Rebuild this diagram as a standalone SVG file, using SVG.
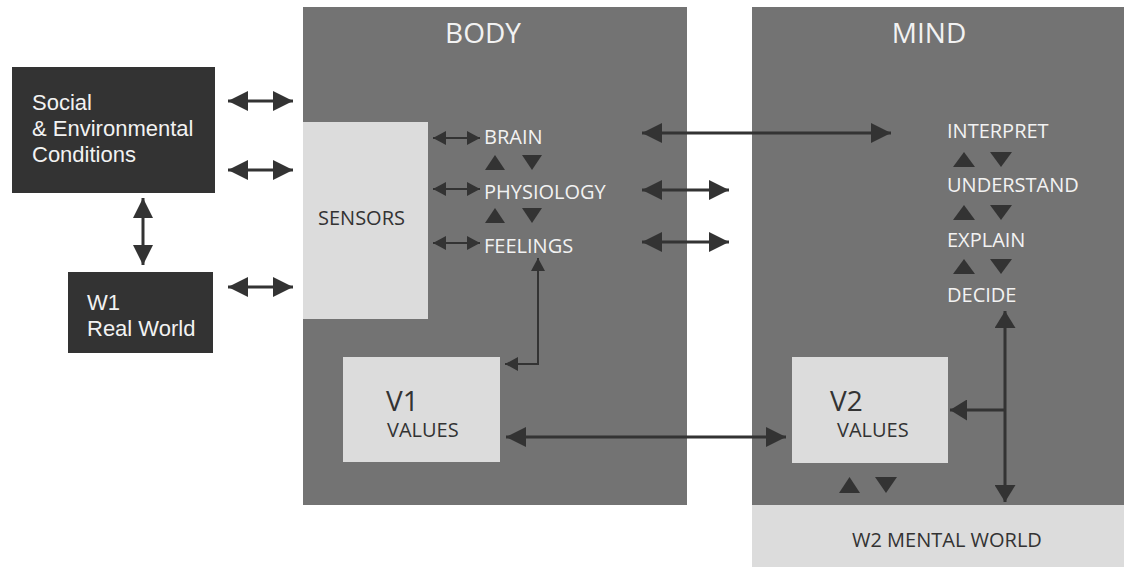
<svg xmlns="http://www.w3.org/2000/svg" width="1124" height="567" viewBox="0 0 1124 567">
<style>
.panel{fill:#737373}
.dark{fill:#333333}
.light{fill:#dcdcdc}
.t{font-family:"Open Sans","Liberation Sans",sans-serif;font-size:20px;font-weight:500}
.tl{font-family:"Liberation Sans","Open Sans",sans-serif;font-size:22px}
.w{fill:#f2f2f2}
.k{fill:#333333}
.title{font-family:"Open Sans","Liberation Sans",sans-serif;font-size:28px;fill:#f2f2f2;font-weight:500}
.big{font-family:"Open Sans","Liberation Sans",sans-serif;font-size:28px;fill:#333333;font-weight:500}
.c{stroke:#333333;stroke-width:3;fill:none}
.cs{stroke:#333333;stroke-width:2;fill:none}
.tri{fill:#333333}
</style>
<defs>
<marker id="ah" markerUnits="userSpaceOnUse" markerWidth="20" markerHeight="20" refX="20" refY="10" orient="auto-start-reverse" viewBox="0 0 20 20">
<path d="M0,0 L20,10 L0,20 z" fill="#333333"/>
</marker>
<marker id="am" markerUnits="userSpaceOnUse" markerWidth="17" markerHeight="21" refX="17" refY="10.5" orient="auto-start-reverse" viewBox="0 0 17 21">
<path d="M0,0 L17,10.5 L0,21 z" fill="#333333"/>
</marker>
<marker id="as" markerUnits="userSpaceOnUse" markerWidth="13" markerHeight="14" refX="13" refY="7" orient="auto-start-reverse" viewBox="0 0 13 14">
<path d="M0,0 L13,7 L0,14 z" fill="#333333"/>
</marker>
</defs>
<rect width="1124" height="567" fill="#ffffff"/>

<g id="body">
<rect class="panel" x="303" y="7" width="384" height="498"/>
<text class="title" x="483" y="43" text-anchor="middle">BODY</text>
</g>
<g id="mind">
<rect class="panel" x="752" y="7" width="372" height="498"/>
<text class="title" x="929" y="43" text-anchor="middle">MIND</text>
</g>
<g id="w2">
<rect class="light" x="752" y="505" width="372" height="62"/>
<text class="t k" x="852" y="547">W2 MENTAL WORLD</text>
</g>
<g id="social">
<rect class="dark" x="12" y="67" width="203" height="126"/>
<text class="tl w" x="32" y="110">Social</text>
<text class="tl w" x="32" y="136">&amp; Environmental</text>
<text class="tl w" x="32" y="162">Conditions</text>
</g>
<g id="w1">
<rect class="dark" x="68" y="272" width="145" height="81"/>
<text class="tl w" x="87" y="310">W1</text>
<text class="tl w" x="87" y="336">Real World</text>
</g>
<g id="sensors">
<rect class="light" x="303" y="122" width="125" height="197"/>
<text class="t k" x="318" y="225">SENSORS</text>
</g>
<g id="brain"><text class="t w" x="484" y="144">BRAIN</text></g>
<g id="physiology"><text class="t w" x="484" y="199">PHYSIOLOGY</text></g>
<g id="feelings"><text class="t w" x="484" y="253">FEELINGS</text></g>
<g id="v1">
<rect class="light" x="343" y="357" width="157" height="105"/>
<text class="big" x="386" y="411">V1</text>
<text class="t k" x="387" y="437">VALUES</text>
</g>
<g id="v2">
<rect class="light" x="792" y="357" width="156" height="106"/>
<text class="big" x="830" y="411">V2</text>
<text class="t k" x="837" y="437">VALUES</text>
</g>
<g id="interpret"><text class="t w" x="947" y="138">INTERPRET</text></g>
<g id="understand"><text class="t w" x="947" y="192">UNDERSTAND</text></g>
<g id="explain"><text class="t w" x="947" y="247">EXPLAIN</text></g>
<g id="decide"><text class="t w" x="947" y="302">DECIDE</text></g>

<g id="connectors">
<line class="c" x1="228" y1="101" x2="293" y2="101" marker-start="url(#ah)" marker-end="url(#ah)"/>
<line class="c" x1="228" y1="170" x2="293" y2="170" marker-start="url(#ah)" marker-end="url(#ah)"/>
<line class="c" x1="228" y1="287" x2="293" y2="287" marker-start="url(#ah)" marker-end="url(#ah)"/>
<line class="c" x1="143" y1="198" x2="143" y2="265" marker-start="url(#ah)" marker-end="url(#ah)"/>
<line class="cs" x1="433" y1="138" x2="480" y2="138" marker-start="url(#as)" marker-end="url(#as)"/>
<line class="cs" x1="433" y1="189" x2="480" y2="189" marker-start="url(#as)" marker-end="url(#as)"/>
<line class="cs" x1="433" y1="243" x2="480" y2="243" marker-start="url(#as)" marker-end="url(#as)"/>
<line class="c" x1="642" y1="133" x2="891" y2="133" marker-start="url(#ah)" marker-end="url(#ah)"/>
<line class="c" x1="642" y1="190" x2="729" y2="190" marker-start="url(#ah)" marker-end="url(#ah)"/>
<line class="c" x1="642" y1="242" x2="729" y2="242" marker-start="url(#ah)" marker-end="url(#ah)"/>
<polyline class="cs" points="538,258 538,364 505,364" marker-start="url(#as)" marker-end="url(#as)"/>
<line class="c" x1="506" y1="437" x2="786" y2="437" marker-start="url(#ah)" marker-end="url(#ah)"/>
<line class="c" x1="1005" y1="311" x2="1005" y2="502" marker-start="url(#am)" marker-end="url(#am)"/>
<line class="c" x1="1005" y1="410" x2="950" y2="410" marker-end="url(#am)"/>
<g id="triangles">
<polygon class="tri" points="485,170 495,155 505,170"/>
<polygon class="tri" points="522,155 542,155 532,170"/>
<polygon class="tri" points="485,223 495,208 505,223"/>
<polygon class="tri" points="522,208 542,208 532,223"/>
<polygon class="tri" points="953,167 964,152 975,167"/>
<polygon class="tri" points="990,152 1012,152 1001,167"/>
<polygon class="tri" points="953,220 964,205 975,220"/>
<polygon class="tri" points="990,205 1012,205 1001,220"/>
<polygon class="tri" points="953,274 964,259 975,274"/>
<polygon class="tri" points="990,259 1012,259 1001,274"/>
<polygon class="tri" points="839,493 849.5,477 860,493"/>
<polygon class="tri" points="875,477 897,477 886,493"/>
</g>
</g>
</svg>
